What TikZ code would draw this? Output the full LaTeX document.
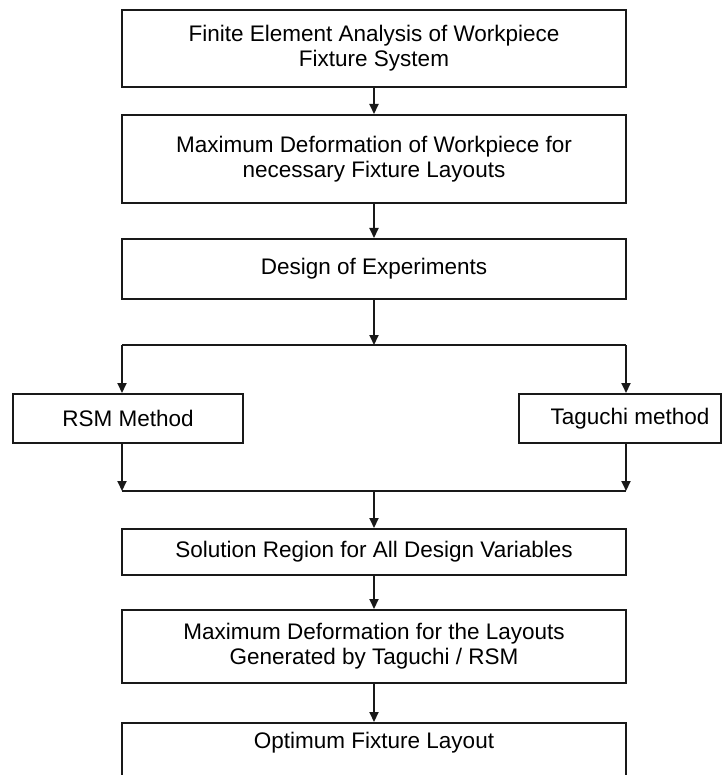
\documentclass[tikz,border=0pt]{standalone}
\usepackage{fontspec}
\setmainfont{Liberation Sans}
\usetikzlibrary{arrows.meta}
\begin{document}
\begin{tikzpicture}[x=1pt,y=-1pt,
  box/.style={draw=black!90, line width=2pt, align=center, inner sep=0pt,
    font=\fontsize{22.5}{25}\selectfont},
  conn/.style={line width=2pt, draw=black!90},
  arr/.style={conn, -{Triangle[length=10pt,width=9pt]}}]
\useasboundingbox (0,0) rectangle (723,775);
\fill[white] (0,0) rectangle (723,775);

\node[box, minimum width=504, minimum height=77] (fea) at (374,48.5)
  {Finite Element Analysis of Workpiece\\Fixture System};
\node[box, minimum width=504, minimum height=88] (maxdef) at (374,159)
  {Maximum Deformation of Workpiece for\\necessary Fixture Layouts};
\node[box, minimum width=504, minimum height=60] (doe) at (374,269)
  {Design of Experiments};
\node[box, minimum width=230, minimum height=49] (rsm) at (128,418.5)
  {RSM Method};
\node[box, minimum width=202, minimum height=49] (tag) at (620,418.5)
  {\hspace*{20pt}Taguchi method};
\node[box, minimum width=504, minimum height=46] (sol) at (374,552)
  {Solution Region for All Design Variables};
\node[box, minimum width=504, minimum height=73] (maxlay) at (374,646.5)
  {Maximum Deformation for the Layouts\\Generated by Taguchi / RSM};
\node[box, minimum width=504, minimum height=67] (opt) at (374,756.5)
  {Optimum Fixture Layout\\\strut};

\coordinate (sc) at (374,345);
\coordinate (sl) at (122,345);
\coordinate (sr) at (626,345);
\coordinate (jc) at (374,491);
\coordinate (jl) at (122,491);
\coordinate (jr) at (626,491);

\draw[arr] (fea) -- (maxdef);
\draw[arr] (maxdef) -- (doe);
\draw[arr] (doe.south) -- (sc);
\draw[conn] (sl) -- (sr);
\draw[arr] (sl) -- (sl |- rsm.north);
\draw[arr] (sr) -- (sr |- tag.north);
\draw[arr] (rsm.south -| jl) -- (jl);
\draw[arr] (tag.south -| jr) -- (jr);
\draw[conn] (jl) -- (jr);
\draw[arr] (jc) -- (sol.north);
\draw[arr] (sol) -- (maxlay);
\draw[arr] (maxlay) -- (opt);
\end{tikzpicture}
\end{document}
